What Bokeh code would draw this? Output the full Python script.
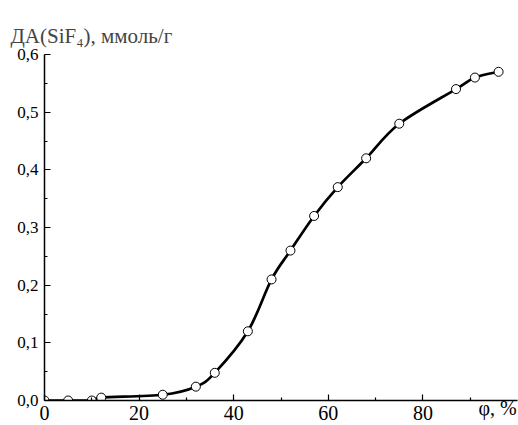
from bokeh.plotting import figure
from bokeh.models import FixedTicker, CustomJSTickFormatter, Range1d
from bokeh.embed import file_html
from bokeh.resources import INLINE

# data
phi = [0, 5, 10, 12, 25, 32, 36, 43, 48, 52, 57, 62, 68, 75, 87, 91, 96]
da = [0.0, 0.0, 0.0, 0.005, 0.01, 0.024, 0.048, 0.12, 0.21, 0.26, 0.32, 0.37, 0.42, 0.48, 0.54, 0.56, 0.57]

x_major = [0, 20, 40, 60, 80]
x_minor = [10, 30, 50, 70, 90]
y_major = [0.0, 0.1, 0.2, 0.3, 0.4, 0.5, 0.6]
y_minor = [0.05, 0.15, 0.25, 0.35, 0.45, 0.55]
y_title = "ДА(SiF₄), ммоль/г"
x_title = "φ, %" + "\u00a0" * 8   # padded so the centred label sits left of the axis end

FONT = "Liberation Serif"
W, H = 518, 425

p = figure(width=W, height=H, output_backend="svg", toolbar_location=None,
           x_range=Range1d(0, 100), y_range=Range1d(0, 0.6),
           min_border_left=44, min_border_right=1, min_border_top=54,
           min_border_bottom=25, title=y_title)
p.outline_line_color = None
p.xgrid.visible = False
p.ygrid.visible = False
p.background_fill_color = "white"
p.border_fill_color = "white"

p.title.text_font = FONT
p.title.text_font_size = "21px"
p.title.text_font_style = "normal"
p.title.align = "left"
p.title.vertical_align = "top"
p.title.offset = -34
p.title.standoff = 10

# smooth curve through the measured points (Catmull-Rom segments as Beziers)
n = len(phi)
x0, y0, x1, y1, cx0, cy0, cx1, cy1 = [], [], [], [], [], [], [], []
for i in range(n - 1):
    xa, ya = phi[max(i - 1, 0)], da[max(i - 1, 0)]
    xb, yb = phi[i], da[i]
    xc, yc = phi[i + 1], da[i + 1]
    xd, yd = phi[min(i + 2, n - 1)], da[min(i + 2, n - 1)]
    x0.append(xb); y0.append(yb); x1.append(xc); y1.append(yc)
    cx0.append(xb + (xc - xa) / 6.0); cy0.append(yb + (yc - ya) / 6.0)
    cx1.append(xc - (xd - xb) / 6.0); cy1.append(yc - (yd - yb) / 6.0)
p.bezier(x0=x0, y0=y0, x1=x1, y1=y1, cx0=cx0, cy0=cy0, cx1=cx1, cy1=cy1,
         line_color="black", line_width=2.7)
p.scatter(phi, da, size=9, fill_color="white", line_color="black", line_width=1)

for ax in (p.xaxis[0], p.yaxis[0]):
    ax.axis_line_color = "black"
    ax.axis_line_width = 1.5
    ax.major_tick_line_color = "black"
    ax.major_tick_line_width = 1.2
    ax.minor_tick_line_color = "black"
    ax.minor_tick_line_width = 1.2
    ax.major_tick_in = 6
    ax.major_tick_out = 0
    ax.minor_tick_in = 3
    ax.minor_tick_out = 0
    ax.major_label_text_font = FONT
    ax.major_label_text_color = "black"

p.xaxis[0].ticker = FixedTicker(ticks=x_major, minor_ticks=x_minor)
p.yaxis[0].ticker = FixedTicker(ticks=y_major, minor_ticks=y_minor)
p.yaxis[0].formatter = CustomJSTickFormatter(code="return tick.toFixed(1).replace('.', ',');")
p.yaxis[0].major_label_text_font_size = "17px"
p.yaxis[0].major_label_standoff = 6

xa_ = p.xaxis[0]
xa_.formatter = CustomJSTickFormatter(code="return tick.toFixed(0);")
xa_.major_label_text_font_size = "20px"
xa_.major_label_standoff = 5
xa_.axis_label = x_title
xa_.axis_label_text_font = FONT
xa_.axis_label_text_font_size = "20px"
xa_.axis_label_text_font_style = "normal"
xa_.axis_label_text_color = "black"
xa_.axis_label_align = "end"
xa_.axis_label_standoff = -26

open("out.html", "w").write(file_html(p, INLINE))
